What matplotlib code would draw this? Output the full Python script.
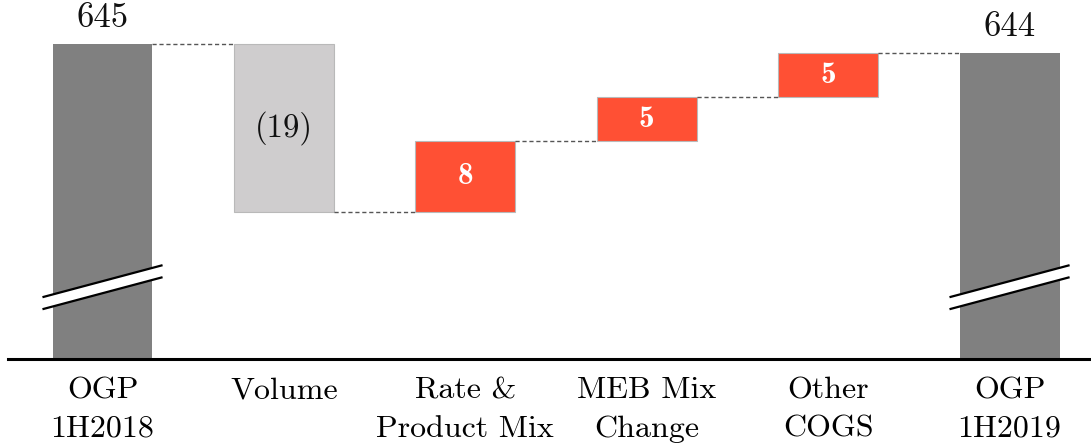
import matplotlib
matplotlib.use("Agg")
import matplotlib.pyplot as plt
from matplotlib.patches import Polygon
import numpy as np

# Operating gross profit bridge, 1H2018 -> 1H2019
categories = ["OGP\n1H2018", "Volume", "Rate &\nProduct Mix",
              "MEB Mix\nChange", "Other\nCOGS", "OGP\n1H2019"]
start_total = 645
changes = [-19, 8, 5, 5]
end_total = 644
change_labels = ["(19)", "8", "5", "5"]

DARK = "#808080"
NEG = "#cfcdce"
POS = "#ff5034"
FONT = "cmr10"
FONT_BOLD = "cmb10"
FS = 23

W, H = 1091, 446
fig = plt.figure(figsize=(W / 100, H / 100), dpi=100)
ax = fig.add_axes([8 / W, (H - 359) / H, (W - 8) / W, 359 / H])

y_lo, y_hi = 609.4, 650.0
ax.set_ylim(y_lo, y_hi)
ax.set_xlim(-0.521, 5.449)

x = np.arange(len(categories))
bw = 0.551
floor = y_lo - 5

# totals
for xi, total in ((x[0], start_total), (x[-1], end_total)):
    ax.bar(xi, total - floor, bottom=floor, width=bw, color=DARK, zorder=2)

# changes
level = start_total
levels = [start_total]
for i, (d, lab) in enumerate(zip(changes, change_labels), start=1):
    lo, hi = min(level, level + d), max(level, level + d)
    color = NEG if d < 0 else POS
    ax.bar(x[i], hi - lo, bottom=lo, width=bw, color=color,
           edgecolor="#b9b9b9", linewidth=0.8, zorder=2)
    if d < 0:
        ax.text(x[i], (lo + hi) / 2, lab, ha="center", va="center",
                family=FONT, fontsize=23.5, color="#111111", zorder=4)
    else:
        ax.text(x[i], (lo + hi) / 2, lab, ha="center", va="center",
                family=FONT_BOLD, fontsize=22.5, color="white", zorder=4)
    level += d
    levels.append(level)
levels.append(end_total)

# dashed connectors between consecutive bars
for i in range(len(categories) - 1):
    ax.plot([x[i] + bw / 2, x[i + 1] - bw / 2], [levels[i], levels[i]],
            color="#555555", lw=1.0, ls=(0, (3, 2)), zorder=3)

# total value labels
for xi, total in ((x[0], start_total), (x[-1], end_total)):
    ax.annotate(str(total), (xi, total), xytext=(0, 18.7),
                textcoords="offset points", ha="center", va="center",
                family=FONT, fontsize=25, color="#111111")

# axis-break marks on the total bars
brk_y = 618.2       # centre of the upper stroke
slope = 3.62        # rise of each stroke across its length (data units)
gap = 1.36
half = 0.331
for xi in (x[0], x[-1]):
    x0, x1 = xi - half, xi + half
    upper = [(x0, brk_y - slope / 2), (x1, brk_y + slope / 2)]
    lower = [(x0, brk_y - slope / 2 - gap), (x1, brk_y + slope / 2 - gap)]
    ax.add_patch(Polygon(upper + lower[::-1], closed=True,
                         facecolor="white", edgecolor="none", zorder=5))
    for seg in (upper, lower):
        ax.plot([p[0] for p in seg], [p[1] for p in seg],
                color="black", lw=1.6, solid_capstyle="butt", zorder=6)

# axes styling
for s in ("top", "right", "left"):
    ax.spines[s].set_visible(False)
ax.spines["bottom"].set_linewidth(2.2)
ax.spines["bottom"].set_color("black")
ax.set_yticks([])
ax.set_xticks(x)
ax.set_xticklabels(categories, family=FONT, fontsize=FS, linespacing=1.5)
ax.tick_params(axis="x", length=0, pad=13)

fig.savefig("out.png", dpi=100)
